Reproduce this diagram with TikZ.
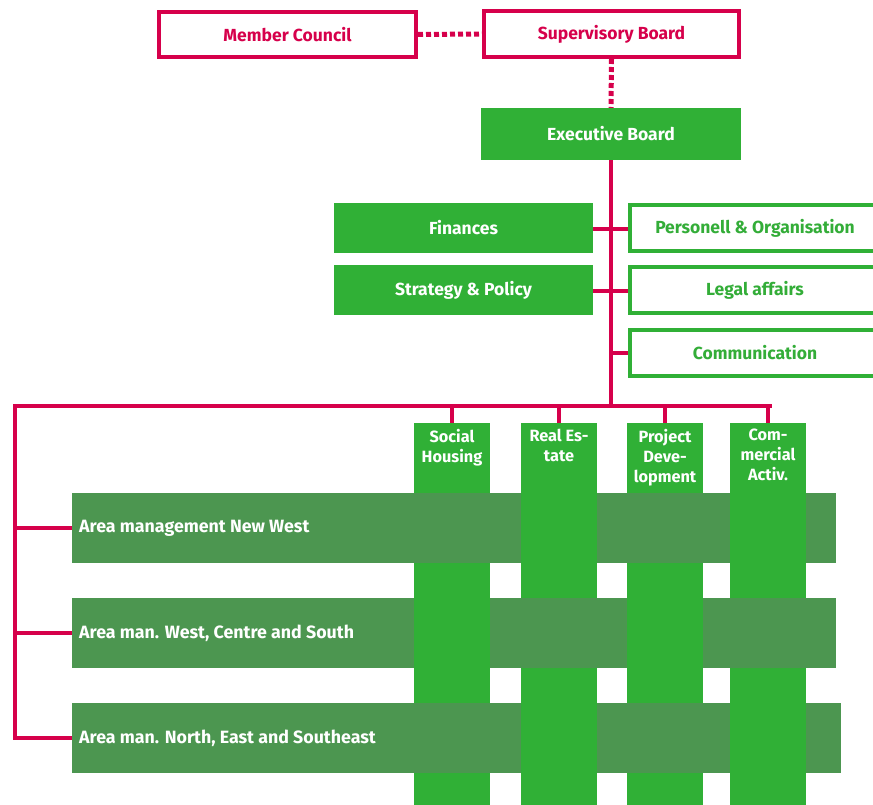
\documentclass[tikz,border=0pt]{standalone}
\usepackage{fontspec}
\setmainfont{Fira Sans}
\definecolor{cred}{HTML}{D6004B}
\definecolor{cgreen}{HTML}{30B036}
\definecolor{cdark}{HTML}{4C9650}
\definecolor{ctext}{HTML}{33AD38}
\begin{document}
\begin{tikzpicture}[x=1pt,y=-1pt,
  redbox/.style={draw=cred,line width=4pt,fill=white,text=cred,font=\bfseries\fontsize{17.5}{20}\selectfont,inner sep=0pt},
  fillbox/.style={fill=cgreen,text=white,font=\bfseries\fontsize{17.5}{20}\selectfont,inner sep=0pt},
  outbox/.style={draw=cgreen,line width=4pt,fill=white,text=ctext,font=\bfseries\fontsize{17.5}{20}\selectfont,inner sep=0pt},
  conn/.style={draw=cred,line width=4pt},
  dotconn/.style={draw=cred,line width=5pt,dash pattern=on 5pt off 3pt},
  colbox/.style={fill=cgreen,inner sep=0pt,minimum width=76pt,minimum height=382pt,anchor=north},
  coltext/.style={text=white,font=\bfseries\fontsize{16.3}{20}\selectfont,align=center,anchor=north,inner sep=0pt},
  rowbox/.style={fill=cdark,inner sep=0pt,minimum height=70pt,anchor=west},
  rowtext/.style={text=white,font=\bfseries\fontsize{17.8}{20}\selectfont,anchor=west,inner sep=0pt}]
\useasboundingbox (0,0) rectangle (873,805);

% top
\node[redbox,minimum width=257pt,minimum height=45pt] (mc) at (287.5,34.5) {Member Council};
\node[redbox,minimum width=255pt,minimum height=46pt] (sb) at (611.5,34) {Supervisory Board};
\node[fillbox,minimum width=260pt,minimum height=52pt] (eb) at (611,134) {Executive Board};
\draw[dotconn] (mc.east) -- (sb.west);
\draw[dotconn] (sb.south) -- (eb.north);

% staff
\node[fillbox,minimum width=259pt,minimum height=50pt] (fin) at (463.5,228) {Finances};
\node[fillbox,minimum width=259pt,minimum height=50pt] (str) at (463.5,290) {Strategy \& Policy};
\node[outbox,minimum width=250pt,minimum height=46pt] (per) at (755,228) {Personell \& Organisation};
\node[outbox,minimum width=250pt,minimum height=46pt] (leg) at (755,290) {Legal affairs};
\node[outbox,minimum width=250pt,minimum height=46pt] (com) at (755,353) {Communication};

\coordinate (bus) at (611,406);
\coordinate (busL) at (13,406);
\coordinate (busR) at (772,406);
\coordinate (cj) at (611,353);
\draw[conn] (eb.south) -- (bus);
\draw[conn] (fin.east |- 0,229) -- (per.west |- 0,229);
\draw[conn] (str.east |- 0,291) -- (leg.west |- 0,291);
\draw[conn] (cj) -- (com.west);

% columns
\node[colbox] (c1) at (452,423) {};
\node[colbox] (c2) at (559,423) {};
\node[colbox] (c3) at (665,423) {};
\node[colbox] (c4) at (768,423) {};
\node[coltext] (t1) at (452,429) {Social\\Housing};
\node[coltext] (t2) at (559,429) {Real Es-\\tate};
\node[coltext] (t3) at (665,429) {Project\\Deve-\\lopment};
\node[coltext] (t4) at (768,429) {Com-\\mercial\\Activ.};

% bus
\draw[conn] (busL) -- (busR);
\draw[conn] (c1.north |- bus) -- (c1.north);
\draw[conn] (c2.north |- bus) -- (c2.north);
\draw[conn] (c3.north |- bus) -- (c3.north);
\draw[conn] (c4.north |- bus) -- (c4.north);

% rows
\node[rowbox,minimum width=764pt] (r1) at (72,528) {};
\node[rowbox,minimum width=764pt] (r2) at (72,633) {};
\node[rowbox,minimum width=769pt] (r3) at (72,738) {};
\node[rowtext] (l1) at (79,528) {Area management New West};
\node[rowtext] (l2) at (79,633) {Area man. West, Centre and South};
\node[rowtext] (l3) at (79,738) {Area man. North, East and Southeast};

% weave
\fill[cgreen] (c2.west |- r1.north) rectangle (c2.east |- r1.south);
\fill[cgreen] (c4.west |- r1.north) rectangle (c4.east |- r1.south);
\fill[cgreen] (c1.west |- r2.north) rectangle (c1.east |- r2.south);
\fill[cgreen] (c3.west |- r2.north) rectangle (c3.east |- r2.south);
\fill[cgreen] (c2.west |- r3.north) rectangle (c2.east |- r3.south);
\fill[cgreen] (c4.west |- r3.north) rectangle (c4.east |- r3.south);

% left spine
\coordinate (sp) at (15,406);
\coordinate (sp3) at (15,740);
\draw[conn] (sp) -- (sp3);
\draw[conn] (15,528) -- (r1.west);
\draw[conn] (15,633) -- (r2.west);
\draw[conn] (15,738) -- (r3.west);
\end{tikzpicture}
\end{document}
